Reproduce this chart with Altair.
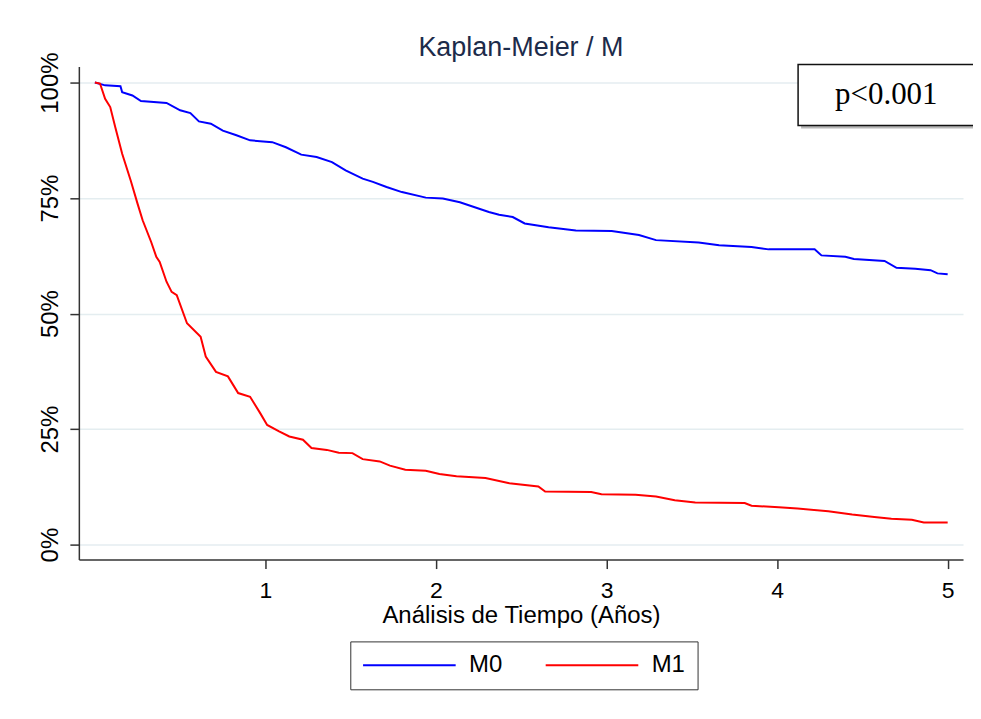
import altair as alt
import pandas as pd

# ---- data ----
title_text = "Kaplan-Meier / M"
x_title = "Análisis de Tiempo (Años)"
groups = ["M0", "M1"]
group_colors = ["#0000ff", "#ff0000"]
x_ticks = [1, 2, 3, 4, 5]
y_ticks = [0, 25, 50, 75, 100]
p_label = "p<0.001"

m0_time = [0, 0.06, 0.15, 0.16, 0.22, 0.27, 0.42, 0.50, 0.56, 0.61,
           0.68, 0.75, 0.83, 0.91, 1.04, 1.12, 1.21, 1.30, 1.39, 1.47,
           1.57, 1.63, 1.71, 1.80, 1.94, 2.04, 2.14, 2.31, 2.37, 2.45,
           2.52, 2.66, 2.82, 3.03, 3.19, 3.29, 3.54, 3.66, 3.85, 3.95,
           4.22, 4.26, 4.40, 4.45, 4.63, 4.70, 4.81, 4.90, 4.94, 5.0]
m0_surv = [100, 99.4, 99.2, 97.9, 97.2, 96.0, 95.6, 94.0, 93.4, 91.6,
           91.1, 89.6, 88.6, 87.5, 87.1, 86.0, 84.4, 83.9, 82.8, 81.0,
           79.2, 78.5, 77.4, 76.3, 75.1, 74.9, 74.1, 72.0, 71.4, 70.9,
           69.5, 68.7, 68.0, 67.9, 67.0, 65.9, 65.4, 64.8, 64.4, 63.9,
           63.9, 62.6, 62.3, 61.8, 61.4, 59.9, 59.7, 59.4, 58.7, 58.5]

m1_time = [0, 0.03, 0.06, 0.09, 0.12, 0.16, 0.21, 0.25, 0.28, 0.33,
           0.36, 0.38, 0.42, 0.45, 0.48, 0.54, 0.62, 0.65, 0.71, 0.78,
           0.84, 0.91, 0.97, 1.01, 1.08, 1.14, 1.22, 1.27, 1.36, 1.43,
           1.51, 1.57, 1.67, 1.73, 1.82, 1.94, 2.02, 2.12, 2.29, 2.43,
           2.60, 2.64, 2.91, 2.97, 3.17, 3.29, 3.40, 3.52, 3.81, 3.85,
           4.01, 4.12, 4.30, 4.44, 4.57, 4.67, 4.79, 4.86, 5.0]
m1_surv = [100, 99.8, 96.5, 94.7, 90.3, 84.6, 78.8, 73.8, 70.2, 65.5,
           62.3, 61.2, 56.9, 54.7, 54.0, 47.9, 45.0, 40.7, 37.4, 36.4,
           32.8, 32.0, 28.4, 25.9, 24.5, 23.4, 22.7, 20.9, 20.5, 19.9,
           19.8, 18.5, 18.0, 17.1, 16.2, 16.0, 15.3, 14.8, 14.4, 13.3,
           12.6, 11.5, 11.4, 10.9, 10.8, 10.4, 9.6, 9.1, 9.0, 8.4,
           8.1, 7.8, 7.2, 6.5, 6.0, 5.6, 5.4, 4.8, 4.8]

rows = []
for g, ts, ss in [(groups[0], m0_time, m0_surv), (groups[1], m1_time, m1_surv)]:
    for i, (t, s) in enumerate(zip(ts, ss)):
        rows.append({"group": g, "t": t, "s": s, "i": i})
df = pd.DataFrame(rows)

# annotation box (in data units of the axes)
box = pd.DataFrame([{"x": 4.123, "x2": 5.158, "y": 103.9, "y2": 90.7,
                     "tx": 4.64, "ty": 97.3, "label": p_label}])

FONT = "Liberation Sans"

x_scale = alt.Scale(domain=[-0.094, 5.09], nice=False, zero=False)
y_scale = alt.Scale(domain=[-3.24, 103.46], nice=False, zero=False)

lines = alt.Chart(df).mark_line(strokeWidth=2).encode(
    x=alt.X("t:Q", scale=x_scale,
            axis=alt.Axis(values=x_ticks, format="d", title=x_title, grid=False,
                          tickSize=9, labelPadding=11, labelFontSize=23,
                          titleFontSize=24, titleFontWeight="normal",
                          titleY=44, titleBaseline="top")),
    y=alt.Y("s:Q", scale=y_scale,
            axis=alt.Axis(values=y_ticks, labelExpr="datum.value + '%'",
                          title=None, grid=True, labelAngle=270,
                          tickSize=9, labelPadding=7, labelFontSize=24)),
    color=alt.Color("group:N", scale=alt.Scale(domain=groups, range=group_colors),
                    legend=alt.Legend(orient="none", legendX=272, legendY=576,
                                      direction="horizontal", title=None,
                                      strokeColor="#333333", fillColor="white",
                                      padding=12, labelFontSize=24,
                                      labelFont=FONT, labelColor="black",
                                      symbolType="M-1.4,0L10.2,0",
                                      symbolSize=256, symbolStrokeWidth=2,
                                      labelOffset=83, columnPadding=38)),
    order=alt.Order("i:Q"),
)

shadow = alt.Chart(box).mark_rect(color="#9a9a9a", opacity=0.7, xOffset=3, yOffset=3,
                                  x2Offset=3, y2Offset=3).encode(
    x=alt.X("x:Q", scale=x_scale), x2="x2:Q",
    y=alt.Y("y:Q", scale=y_scale), y2="y2:Q")

frame = alt.Chart(box).mark_rect(fill="white", stroke="#111111", strokeWidth=1.5).encode(
    x=alt.X("x:Q", scale=x_scale), x2="x2:Q",
    y=alt.Y("y:Q", scale=y_scale), y2="y2:Q")

ptext = alt.Chart(box).mark_text(font="Liberation Serif", fontSize=31, color="black",
                                 align="center", baseline="middle").encode(
    x=alt.X("tx:Q", scale=x_scale), y=alt.Y("ty:Q", scale=y_scale), text="label:N")

chart = alt.layer(lines, shadow, frame, ptext).properties(
    width=886, height=494,
    title=alt.TitleParams(title_text, fontSize=27, font=FONT, fontWeight="normal",
                          color="#1c2b4a", offset=9, dy=19, anchor="middle",
                          frame="group"),
    autosize=alt.AutoSizeParams(type="none"),
    padding={"left": 71, "top": 58, "right": 10, "bottom": 140},
    background="white",
).configure_view(stroke=None).configure_axis(
    labelFont=FONT, titleFont=FONT, labelColor="black", titleColor="black",
    domainColor="#333333", tickColor="#333333", domainWidth=1.5, tickWidth=1.5,
    gridColor="#e4edf0", gridWidth=1.5,
)

chart.save("out.html", embed_options={"renderer": "svg", "actions": False})
